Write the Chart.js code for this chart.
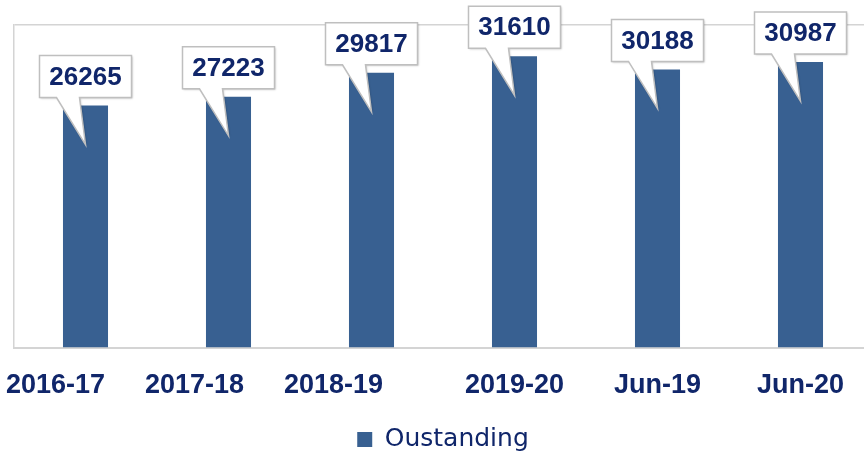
<!DOCTYPE html>
<html>
<head>
<meta charset="utf-8">
<script src="https://cdn.jsdelivr.net/npm/chart.js@4/dist/chart.umd.min.js"></script>
<style>
  html, body { margin: 0; padding: 0; background: #fff; overflow: hidden; }
  #wrap { width: 884px; height: 452px; }
</style>
</head>
<body>
<div id="wrap"><canvas id="myChart" width="884" height="452"></canvas></div>
<script>
// data
var periods = ["2016-17", "2017-18", "2018-19", "2019-20", "Jun-19", "Jun-20"];
var outstanding = [26265, 27223, 29817, 31610, 30188, 30987];
var seriesName = "Oustanding";
var yTicks = [0, 35000];

// layout bits (not data)
var tickShift = [-30, -34, -38, 0, 0, 0]; // x labels in the original sit left of the first bars
var navy = '#10266a';
var barBlue = '#386091';
var frameGrey = '#d4d4d4';

// -------------------- callout labels -------------------- //
var calloutPlugin = {
  id: 'callouts',
  afterDatasetsDraw: function(chart) {
    var ctx = chart.ctx;
    var meta = chart.getDatasetMeta(0);
    meta.data.forEach(function(bar, i) {
      var cx = bar.x, top = bar.y;
      var w = 92, h = 42;
      var bottom = top - 8;
      var boxTop = bottom - h;
      ctx.save();
      ctx.beginPath();
      ctx.moveTo(cx - w / 2, boxTop);
      ctx.lineTo(cx + w / 2, boxTop);
      ctx.lineTo(cx + w / 2, bottom);
      ctx.lineTo(cx - 6, bottom);
      ctx.lineTo(cx, top + 39);
      ctx.lineTo(cx - 29, bottom);
      ctx.lineTo(cx - w / 2, bottom);
      ctx.closePath();
      ctx.shadowColor = 'rgba(0,0,0,0.25)';
      ctx.shadowBlur = 2;
      ctx.shadowOffsetX = 1;
      ctx.shadowOffsetY = 1;
      ctx.fillStyle = '#fff';
      ctx.fill();
      ctx.shadowColor = 'transparent';
      ctx.lineWidth = 1.5;
      ctx.strokeStyle = '#bfbfbf';
      ctx.stroke();
      ctx.fillStyle = navy;
      ctx.font = 'bold 26px "Liberation Sans", Arial, sans-serif';
      ctx.textAlign = 'center';
      ctx.textBaseline = 'middle';
      ctx.fillText(String(outstanding[i]), cx, boxTop + h / 2 + 1);
      ctx.restore();
    });
  }
};

// -------------------- x labels (shifted like the original) -------------------- //
var xLabelPlugin = {
  id: 'xLabels',
  afterDraw: function(chart) {
    var ctx = chart.ctx;
    var xs = chart.scales.x;
    ctx.save();
    ctx.fillStyle = navy;
    ctx.font = 'bold 27px "Liberation Sans", Arial, sans-serif';
    ctx.textAlign = 'center';
    ctx.textBaseline = 'alphabetic';
    for (var i = 0; i < periods.length; i++) {
      ctx.fillText(periods[i], xs.getPixelForValue(i) + tickShift[i], chart.chartArea.bottom + 45);
    }
    ctx.restore();
  }
};

var chart = new Chart(document.getElementById('myChart').getContext('2d'), {
  type: 'bar',
  data: {
    labels: periods,
    datasets: [{
      label: seriesName,
      data: outstanding,
      backgroundColor: barBlue,
      categoryPercentage: 1,
      barPercentage: 0.315
    }]
  },
  options: {
    responsive: false,
    animation: false,
    devicePixelRatio: 1,
    layout: { padding: { left: 14, right: 12, top: 25, bottom: -10 } },
    plugins: {
      tooltip: { enabled: false },
      legend: {
        position: 'bottom',
        labels: {
          boxWidth: 15,
          boxHeight: 15,
          padding: 2,
          color: navy,
          font: { family: '"DejaVu Sans", sans-serif', size: 25 }
        }
      }
    },
    scales: {
      x: {
        grid: { display: false },
        border: { display: true, color: frameGrey, width: 2 },
        ticks: { display: false },
        afterFit: function(s) { s.height = 77; }
      },
      y: {
        min: yTicks[0],
        max: yTicks[1],
        ticks: { display: false, stepSize: yTicks[1] },
        grid: {
          drawTicks: false,
          lineWidth: 1.5,
          color: function(c) { return c.tick && c.tick.value === yTicks[1] ? frameGrey : 'transparent'; }
        },
        border: { display: true, color: frameGrey, width: 1.5 }
      }
    }
  },
  plugins: [calloutPlugin, xLabelPlugin]
});
</script>
</body>
</html>
